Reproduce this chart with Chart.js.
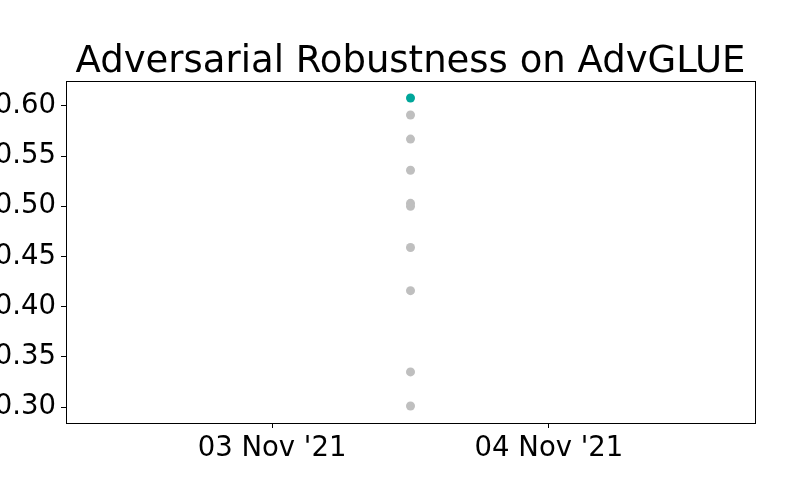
<!DOCTYPE html>
<html>
<head>
<meta charset="utf-8">
<script src="https://cdn.jsdelivr.net/npm/chart.js@4"></script>
<style>
  html, body { margin: 0; padding: 0; background: #fff; }
  #wrap { width: 800px; height: 500px; }
</style>
</head>
<body>
<div id="wrap"><canvas id="chart" width="800" height="500"></canvas></div>
<script>
// data
const evalDate = '2021-11-03T12:00:00Z';
const bestScore = [0.608];
const otherScores = [0.591, 0.567, 0.536, 0.503, 0.500, 0.459, 0.416, 0.335, 0.301];
const yTicks = [0.30, 0.35, 0.40, 0.45, 0.50, 0.55, 0.60];
const xTickDates = ['2021-11-03T00:00:00Z', '2021-11-04T00:00:00Z'];
const months = ['Jan', 'Feb', 'Mar', 'Apr', 'May', 'Jun', 'Jul', 'Aug', 'Sep', 'Oct', 'Nov', 'Dec'];

const DAY = 86400000;
const t0 = Date.parse(evalDate);

function fmtDate(ms) {
  const d = new Date(ms);
  const dd = String(d.getUTCDate()).padStart(2, '0');
  return dd + ' ' + months[d.getUTCMonth()] + " '" + String(d.getUTCFullYear()).slice(2);
}

const frame = {
  id: 'frame',
  afterDraw(chart) {
    const { ctx, chartArea: a } = chart;
    ctx.save();
    ctx.strokeStyle = '#000';
    ctx.lineWidth = 1;
    ctx.strokeRect(a.left + 0.5, a.top + 0.5, a.right - a.left, a.bottom - a.top);
    ctx.fillStyle = '#000';
    ctx.font = '37px "DejaVu Sans"';
    ctx.textAlign = 'center';
    ctx.textBaseline = 'alphabetic';
    ctx.fillText('Adversarial Robustness on AdvGLUE', (a.left + a.right) / 2, 72);
    ctx.restore();
  }
};

new Chart(document.getElementById('chart'), {
  type: 'scatter',
  data: {
    datasets: [{
      label: 'others',
      data: otherScores.map(v => ({ x: t0, y: v })),
      backgroundColor: '#bfbfbf',
      borderWidth: 0,
      pointRadius: 4.5
    }, {
      label: 'best',
      data: bestScore.map(v => ({ x: t0, y: v })),
      backgroundColor: '#00a69a',
      borderWidth: 0,
      pointRadius: 4.5
    }]
  },
  options: {
    responsive: false,
    animation: false,
    layout: { padding: { top: 81, right: 45, left: 0, bottom: 0 } },
    plugins: { legend: { display: false }, tooltip: { enabled: false } },
    scales: {
      x: {
        type: 'linear',
        min: t0 - 1.244 * DAY,
        max: t0 + 1.244 * DAY,
        afterBuildTicks: s => { s.ticks = xTickDates.map(d => ({ value: Date.parse(d) })); },
        afterFit: s => { s.height = 77; },
        ticks: {
          color: '#000',
          font: { family: 'DejaVu Sans', size: 27.5 },
          padding: 4,
          maxRotation: 0,
          callback: v => fmtDate(v)
        },
        grid: { drawOnChartArea: false, tickLength: 5, color: '#000' },
        border: { color: '#000' }
      },
      y: {
        min: 0.2841,
        max: 0.6249,
        afterBuildTicks: s => { s.ticks = yTicks.map(v => ({ value: v })); },
        afterFit: s => { s.width = 66; },
        ticks: {
          color: '#000',
          font: { family: 'DejaVu Sans', size: 27.5 },
          padding: 5,
          callback: v => v.toFixed(2)
        },
        grid: { drawOnChartArea: false, tickLength: 5, color: '#000' },
        border: { color: '#000' }
      }
    }
  },
  plugins: [frame]
});
</script>
</body>
</html>
